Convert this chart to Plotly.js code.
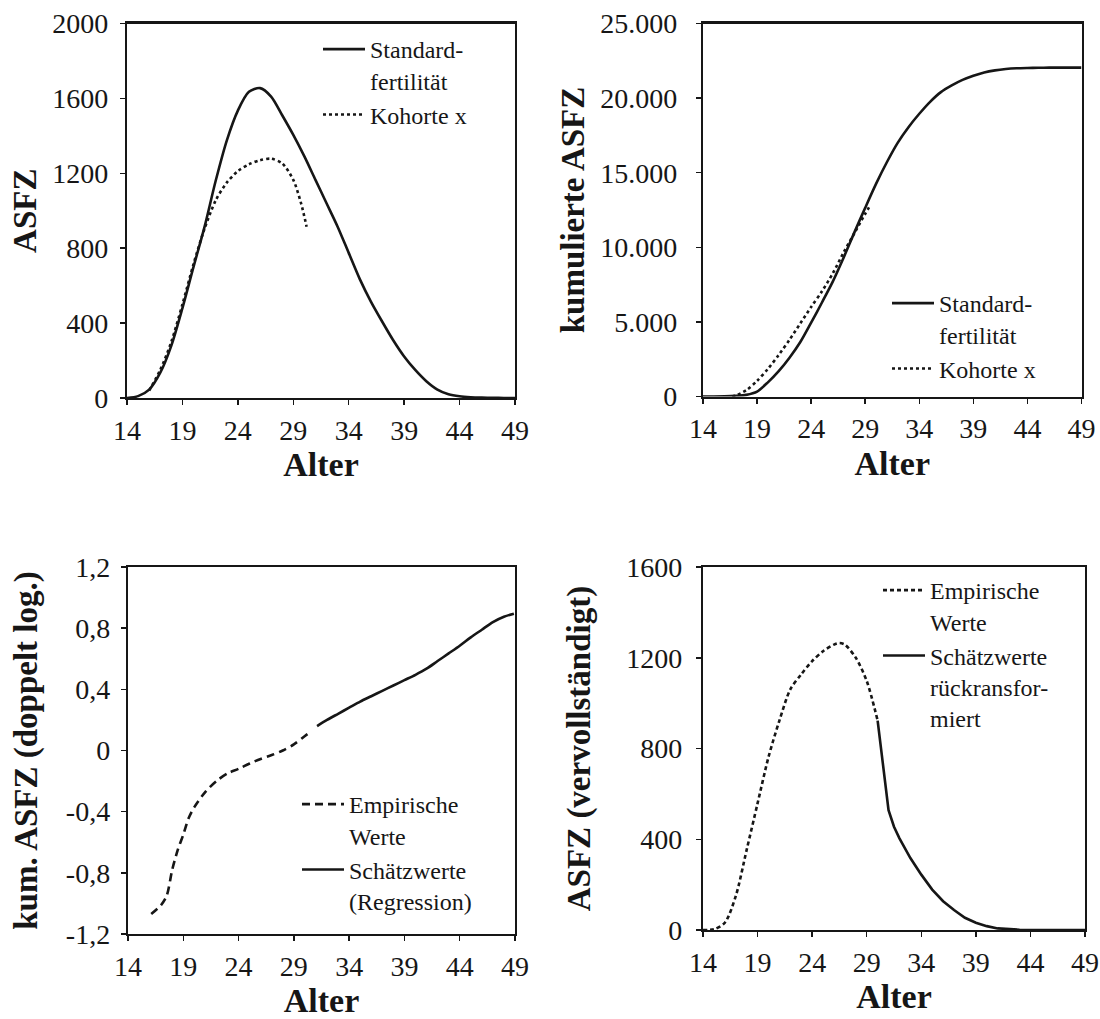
<!DOCTYPE html>
<html>
<head>
<meta charset="utf-8">
<script src="https://cdn.plot.ly/plotly-3.0.1.min.js"></script>
<style>html,body{margin:0;padding:0;background:#fff;}#chart{width:1100px;height:1019px;}</style>
</head>
<body>
<div id="chart"></div>
<script>
// ---------- data ----------
const ages = [14,15,16,17,18,19,20,21,22,23,24,25,26,27,28,29,30,31,32,33,34,35,36,37,38,39,40,41,42,43,44,45,46,47,48,49];
const standardASFZ = [0,10,45,135,280,480,700,915,1160,1375,1535,1635,1655,1610,1510,1405,1290,1165,1040,915,775,635,515,410,310,222,150,90,45,20,9,4,2,1,0,0];
const kohorteAges = [16,17,18,19,20,21,22,23,24,25,26,27,28,29,29.7,30.2];
const kohorteASFZ = [40,150,300,500,715,905,1055,1150,1212,1248,1270,1278,1253,1165,1040,915];

const standardKum = [0,0,10,40,110,330,950,1700,2600,3650,4950,6300,7700,9300,11000,12650,14250,15700,17000,18050,18950,19750,20400,20850,21220,21500,21720,21860,21950,22000,22020,22030,22040,22040,22040,22040];
const kohorteKumAges = [16.7,17,18,19,20,21,22,23,24,25,26,27,28,29,29.5];
const kohorteKum = [0,60,420,1050,1850,2780,3800,4900,6000,7050,8250,9650,10950,12250,12850];

const empLogAges = [16.1,17,17.5,18,18.5,19,19.5,20,21,22,23,24,25,26,27,28,29,30,30.3];
const empLog = [-1.07,-1.01,-0.95,-0.78,-0.65,-0.55,-0.44,-0.37,-0.27,-0.2,-0.15,-0.12,-0.085,-0.055,-0.03,0.0,0.04,0.095,0.11];
const regLogAges = [31.1,32,33,34,35,36,37,38,39,40,41,42,43,44,45,46,47,48,48.9];
const regLog = [0.16,0.2,0.24,0.28,0.32,0.355,0.39,0.425,0.46,0.495,0.535,0.585,0.635,0.685,0.74,0.79,0.84,0.875,0.895];

const empAges = [14,15,16,17,18,19,20,21,22,23,24,25,26,26.5,27,28,29,30];
const empASFZ = [0,3,32,149,353,558,762,923,1061,1127,1185,1229,1258,1265,1258,1200,1098,923];
const estAges = [30,30.5,31,31.5,32,33,34,35,36,37,38,39,40,41,42,43,44,45,46,47,48,49];
const estASFZ = [923,718,528,455,404,317,244,178,127,88,54,32,17,7,3,1,0,0,0,0,0,0];

const xTicks = [14,19,24,29,34,39,44,49];
const y1Ticks = [0,400,800,1200,1600,2000];
const y1Text = ['0','400','800','1200','1600','2000'];
const y2Ticks = [0,5000,10000,15000,20000,25000];
const y2Text = ['0','5.000','10.000','15.000','20.000','25.000'];
const y3Ticks = [-1.2,-0.8,-0.4,0,0.4,0.8,1.2];
const y3Text = ['-1,2','-0,8','-0,4','0','0,4','0,8','1,2'];
const y4Ticks = [0,400,800,1200,1600];
const y4Text = ['0','400','800','1200','1600'];

// ---------- styling ----------
const FONT = 'Liberation Serif, Times New Roman, serif';
const INK = '#161616';
const LW = 2.6;

function line(x, y, name, dash, xa, ya, leg, shape) {
  return {x: x, y: y, name: name, type: 'scatter', mode: 'lines', xaxis: xa, yaxis: ya, legend: leg,
    line: {color: INK, width: LW, dash: dash, shape: shape || 'spline', smoothing: 0.8}, hoverinfo: 'skip'};
}

const traces = [
  line(ages, standardASFZ, 'Standard-<br>fertilität', 'solid', 'x', 'y', 'legend'),
  line(kohorteAges, kohorteASFZ, 'Kohorte x', 'dot', 'x', 'y', 'legend'),
  line(ages, standardKum, 'Standard-<br>fertilität', 'solid', 'x2', 'y2', 'legend2'),
  line(kohorteKumAges, kohorteKum, 'Kohorte x', 'dot', 'x2', 'y2', 'legend2'),
  line(empLogAges, empLog, 'Empirische<br>Werte', '8px,5px', 'x3', 'y3', 'legend3'),
  line(regLogAges, regLog, 'Schätzwerte<br>(Regression)', 'solid', 'x3', 'y3', 'legend3'),
  line(empAges, empASFZ, 'Empirische<br>Werte', '4px,3px', 'x4', 'y4', 'legend4'),
  line(estAges, estASFZ, 'Schätzwerte<br>rückransfor-<br>miert', 'solid', 'x4', 'y4', 'legend4', 'linear')
];

function xax(domain, anchor) {
  return {domain: domain, anchor: anchor, range: [14, 49], tickvals: xTicks, ticktext: xTicks.map(String),
    showline: true, mirror: true, linecolor: INK, linewidth: 2.2, ticks: 'outside', ticklen: 5, tickwidth: 1.5,
    tickcolor: INK, showgrid: false, zeroline: false, ticklabelstandoff: 1,
    tickfont: {family: FONT, size: 28, color: INK},
    title: {text: '<b>Alter</b>', font: {family: FONT, size: 34, color: INK}, standoff: 8}};
}
function yax(domain, anchor, range, vals, text, title, standoff, labOff) {
  return {domain: domain, anchor: anchor, range: range, tickvals: vals, ticktext: text,
    showline: true, mirror: true, linecolor: INK, linewidth: 2.2, ticks: 'outside', ticklen: 5, tickwidth: 1.5,
    tickcolor: INK, showgrid: false, zeroline: false, ticklabelstandoff: labOff,
    tickfont: {family: FONT, size: 28, color: INK},
    title: {text: '<b>' + title + '</b>', font: {family: FONT, size: 33, color: INK}, standoff: standoff}};
}
function leg(x, y, xanchor, yanchor) {
  return {x: x, y: y, xanchor: xanchor, yanchor: yanchor, bgcolor: 'rgba(0,0,0,0)', borderwidth: 0,
    font: {family: FONT, size: 24, color: INK}, valign: 'top', tracegroupgap: 0, itemwidth: 42};
}

const W = 1100, H = 1019;
const px = v => v / W;
const py = v => 1 - v / H;

const layout = {
  width: W, height: H, margin: {l: 0, r: 0, t: 0, b: 0},
  paper_bgcolor: '#fff', plot_bgcolor: '#fff', showlegend: true,
  font: {family: FONT, color: INK},
  xaxis: xax([px(127), px(515)], 'y'),
  yaxis: yax([py(398), py(23.5)], 'x', [0, 2000], y1Ticks, y1Text, 'ASFZ', 6, 6),
  xaxis2: xax([px(703), px(1081.5)], 'y2'),
  yaxis2: yax([py(396.5), py(23.5)], 'x2', [0, 25000], y2Ticks, y2Text, 'kumulierte ASFZ', 6, 13),
  xaxis3: xax([px(128), px(515)], 'y3'),
  yaxis3: yax([py(934), py(567)], 'x3', [-1.2, 1.2], y3Ticks, y3Text, 'kum. ASFZ (doppelt log.)', 18, 5),
  xaxis4: xax([px(703), px(1085)], 'y4'),
  yaxis4: yax([py(930), py(567)], 'x4', [0, 1600], y4Ticks, y4Text, 'ASFZ (vervollständigt)', 26, 8),
  legend: leg(px(318), py(27), 'left', 'top'),
  legend2: leg(px(887), py(391), 'left', 'bottom'),
  legend3: leg(px(297), py(923), 'left', 'bottom'),
  legend4: leg(px(878), py(568), 'left', 'top')
};

Plotly.newPlot('chart', traces, layout, {displayModeBar: false, staticPlot: true});
</script>
</body>
</html>
